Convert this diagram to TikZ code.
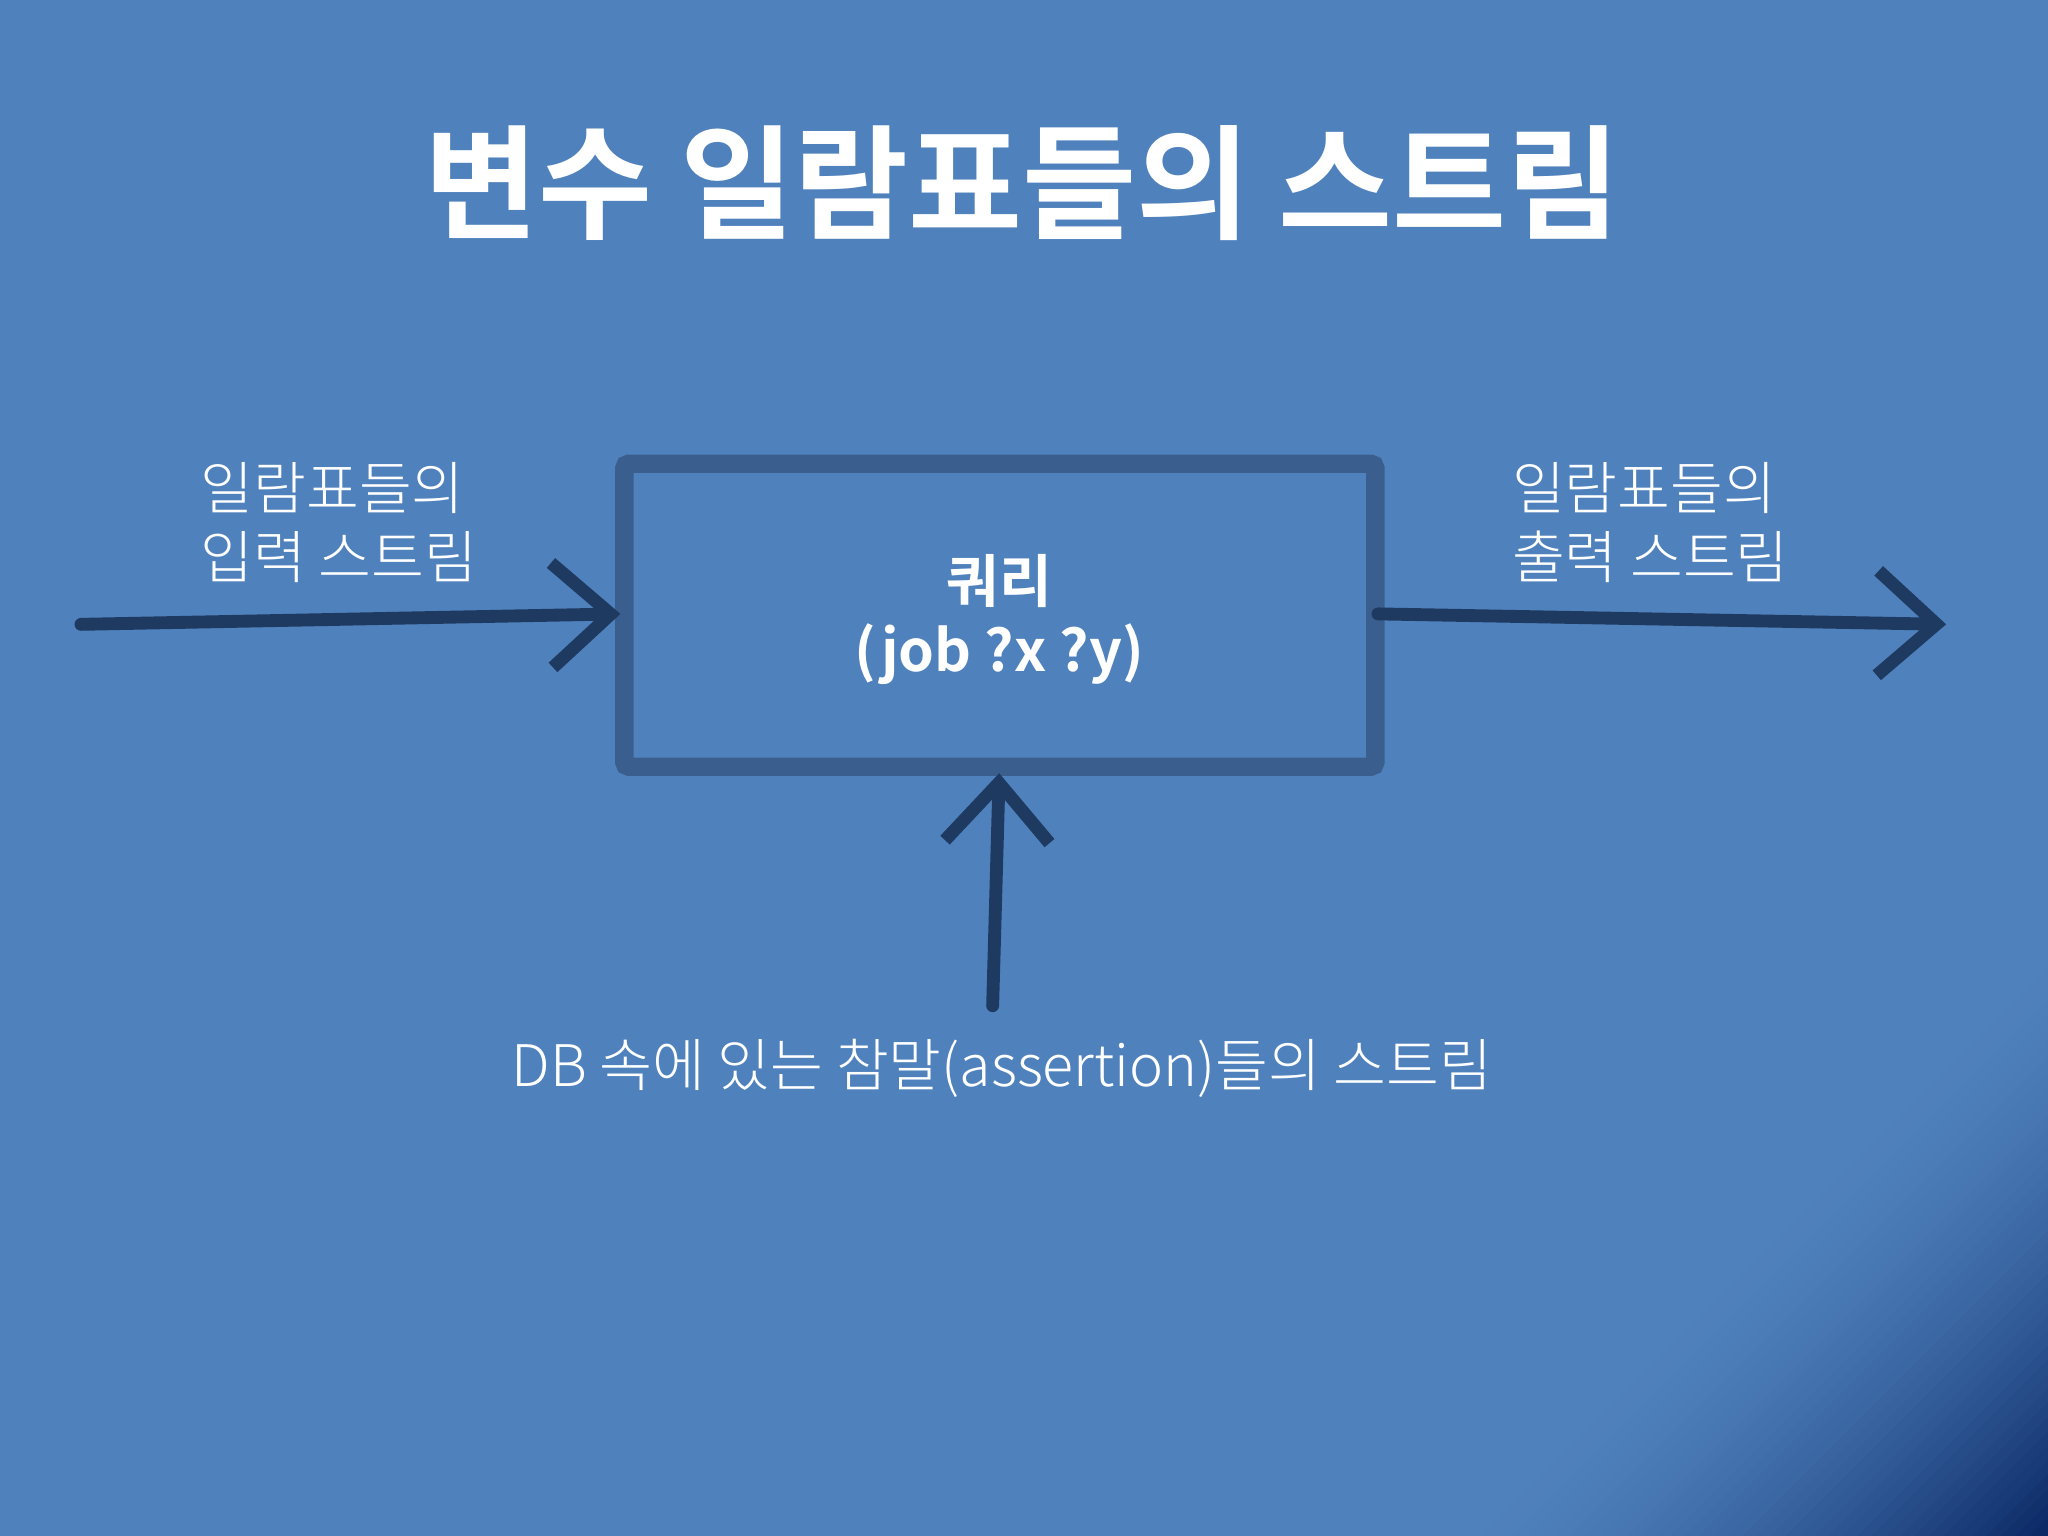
\documentclass[tikz,border=0pt]{standalone}
\usepackage{fontspec}
\usetikzlibrary{arrows.meta}
\newfontfamily\krl{Noto Sans CJK KR Light}
\newfontfamily\krb{Noto Sans CJK KR Bold}
\definecolor{bg}{HTML}{4F81BD}
\definecolor{boxc}{HTML}{3A5F8F}
\definecolor{arr}{HTML}{1F3A60}
\definecolor{navy}{HTML}{0C2A66}
\tikzset{
  conn/.style={draw=arr, line width=2.8pt, line cap=round, -{Straight Barb[length=4.5mm,width=8mm,line width=2.8pt]}},
  lbl/.style={text=white, font=\krl\fontsize{12.5}{15}\selectfont, align=left, inner sep=0pt},
}
\begin{document}
\begin{tikzpicture}[x=0.1mm,y=-0.1mm]
\fill[bg] (0,0) rectangle (1568,1176);
\foreach \k in {0,...,40}{
  \pgfmathsetmacro{\c}{2290+\k*11}
  \pgfmathsetmacro{\p}{100*(\k/40)^1.6}
  \fill[navy!\p!bg] (1568,\c-1568) -- (1568,1176) -- (\c-1176,1176) -- cycle;
}
\node[text=white, font=\krb\fontsize{27}{30}\selectfont, inner sep=0pt] (title) at (783,140) {변수 일람표들의 스트림};
\path (478,355) coordinate (q1) (1053,587) coordinate (q2);
\draw[boxc, line width=4pt, rounded corners=1pt] (q1) rectangle (q2);
\node[text=white, font=\krb\fontsize{12.5}{15}\selectfont, align=center, inner sep=0pt] (qt) at (765,474) {쿼리\\(job ?x ?y)};
\node[lbl, anchor=west] (il) at (153,400) {일람표들의\\입력 스트림};
\node[lbl, anchor=west] (ol) at (1157,400) {일람표들의\\출력 스트림};
\node[lbl, anchor=center] (db) at (767,818) {DB 속에 있는 참말(assertion)들의 스트림};
\coordinate (a1) at (62,478);
\coordinate (a2) at (475,470);
\coordinate (b1) at (1055,470);
\coordinate (b2) at (1490,478);
\coordinate (c1) at (760,770);
\coordinate (c2) at (765,592);
\draw[conn] (a1) -- (a2);
\draw[conn] (b1) -- (b2);
\draw[conn] (c1) -- (c2);
\end{tikzpicture}
\end{document}
